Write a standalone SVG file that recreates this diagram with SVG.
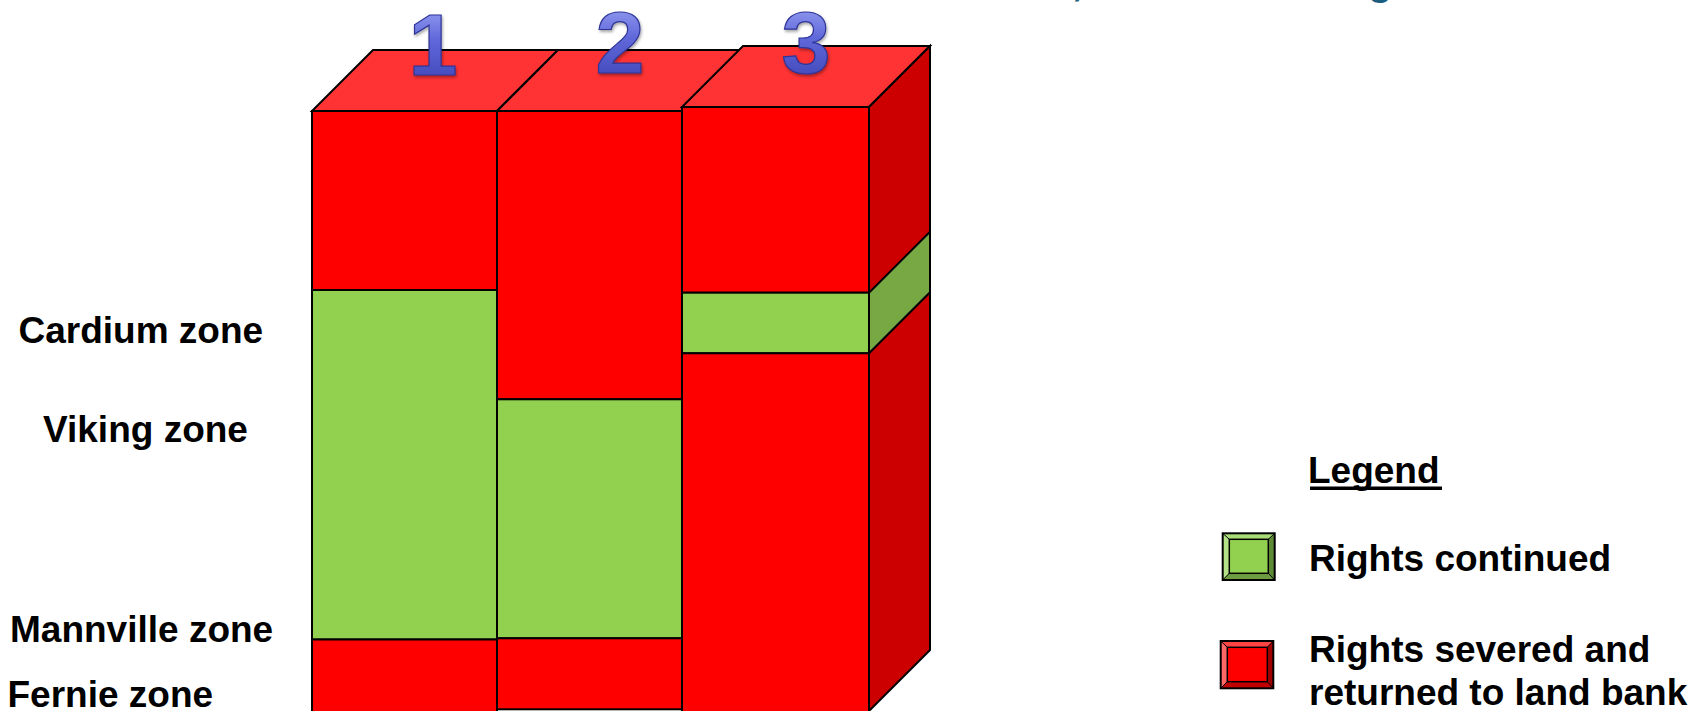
<svg xmlns="http://www.w3.org/2000/svg" width="1702" height="711" viewBox="0 0 1702 711">
<defs>
<linearGradient id="digit" x1="0" y1="0" x2="0" y2="1">
<stop offset="0" stop-color="#A8B0FA"/>
<stop offset="0.45" stop-color="#6068DA"/>
<stop offset="1" stop-color="#3A40B0"/>
</linearGradient>
<filter id="shadow" x="-20%" y="-20%" width="140%" height="140%">
<feDropShadow dx="1" dy="2" stdDeviation="1.5" flood-color="#000" flood-opacity="0.35"/>
</filter>
</defs>
<style>
.edge{stroke:#000;stroke-width:2;stroke-linejoin:miter}
.red{fill:#FF0000}
.redTop{fill:#FF3333}
.redSide{fill:#CC0000}
.green{fill:#92D050}
.greenSide{fill:#77A843}
.lbl{font-family:"Liberation Sans",Arial,sans-serif;font-weight:bold;font-size:37px;fill:#000}
.digit{font-family:"Liberation Sans",Arial,sans-serif;font-weight:bold;font-size:88px;fill:url(#digit);stroke:#2E3496;stroke-width:1.2;text-anchor:middle;filter:url(#shadow)}
.title{font-family:"Liberation Sans",Arial,sans-serif;font-weight:bold;font-size:40px;fill:#1A5D7E}
</style>
<rect width="1702" height="711" fill="#FFFFFF"/>

<g id="title-fragment">
<text class="title" x="1072" y="-5">,</text>
<text class="title" x="1368" y="-5">g</text>
</g>

<g id="column-1">
<polygon class="redTop edge" points="312,111 497,111 558,50 373,50"/>
<rect class="red edge" x="312" y="111" width="185" height="179"/>
<rect class="green edge" x="312" y="290" width="185" height="349.5"/>
<rect class="red edge" x="312" y="639.5" width="185" height="80"/>
</g>

<g id="column-2">
<polygon class="redTop edge" points="497,111 682,111 743,50 558,50"/>
<rect class="red edge" x="497" y="111" width="185" height="288.3"/>
<rect class="green edge" x="497" y="399.3" width="185" height="239"/>
<rect class="red edge" x="497" y="638.3" width="185" height="71"/>
</g>

<g id="column-3">
<polygon class="redTop edge" points="682,107 869,107 930,46 743,46"/>
<polygon class="redSide edge" points="869,107 930,46 930,650 869,711"/>
<polygon class="greenSide edge" points="869,292.7 930,231.7 930,292.3 869,353.3"/>
<rect class="red edge" x="682" y="107" width="187" height="185.7"/>
<rect class="green edge" x="682" y="292.7" width="187" height="60.6"/>
<rect class="red edge" x="682" y="353.3" width="187" height="370"/>
</g>

<g id="column-numbers">
<text class="digit" x="433" y="75">1</text>
<text class="digit" x="620" y="73">2</text>
<text class="digit" x="806" y="73">3</text>
</g>

<g id="zone-labels">
<text class="lbl" x="18.5" y="343">Cardium zone</text>
<text class="lbl" x="43" y="442">Viking zone</text>
<text class="lbl" x="10" y="642">Mannville zone</text>
<text class="lbl" x="7.5" y="706.5">Fernie zone</text>
</g>

<g id="connectors"/>

<g id="legend">
<text class="lbl" x="1308" y="482.7">Legend</text>
<rect x="1310" y="486.5" width="132" height="3.5" fill="#000"/>
<g id="legend-green">
<rect x="1222.7" y="533.3" width="52" height="46.7" fill="#92D050"/>
<polygon points="1222.7,533.3 1274.7,533.3 1268.3,539.3 1229.3,539.3" fill="#A9DC78"/>
<polygon points="1222.7,533.3 1229.3,539.3 1229.3,573.3 1222.7,580" fill="#B5E288"/>
<polygon points="1274.7,533.3 1274.7,580 1268.3,573.3 1268.3,539.3" fill="#5E8A36"/>
<polygon points="1222.7,580 1229.3,573.3 1268.3,573.3 1274.7,580" fill="#6E9C40"/>
<rect x="1229.3" y="539.3" width="39" height="34" fill="none" stroke="#000" stroke-width="1.5"/>
<rect x="1222.7" y="533.3" width="52" height="46.7" fill="none" stroke="#000" stroke-width="2"/>
<g stroke="#000" stroke-width="1"><line x1="1222.7" y1="533.3" x2="1229.3" y2="539.3"/><line x1="1274.7" y1="533.3" x2="1268.3" y2="539.3"/><line x1="1222.7" y1="580" x2="1229.3" y2="573.3"/><line x1="1274.7" y1="580" x2="1268.3" y2="573.3"/></g>
</g>
<text class="lbl" x="1309" y="570.7">Rights continued</text>
<g id="legend-red">
<rect x="1220.7" y="641" width="52.6" height="47.3" fill="#FF0000"/>
<polygon points="1220.7,641 1273.3,641 1267.3,647.3 1227.3,647.3" fill="#FF4444"/>
<polygon points="1220.7,641 1227.3,647.3 1227.3,681.7 1220.7,688.3" fill="#FF6666"/>
<polygon points="1273.3,641 1273.3,688.3 1267.3,681.7 1267.3,647.3" fill="#A00000"/>
<polygon points="1220.7,688.3 1227.3,681.7 1267.3,681.7 1273.3,688.3" fill="#C00000"/>
<rect x="1227.3" y="647.3" width="40" height="34.4" fill="none" stroke="#000" stroke-width="1.5"/>
<rect x="1220.7" y="641" width="52.6" height="47.3" fill="none" stroke="#000" stroke-width="2"/>
<g stroke="#000" stroke-width="1"><line x1="1220.7" y1="641" x2="1227.3" y2="647.3"/><line x1="1273.3" y1="641" x2="1267.3" y2="647.3"/><line x1="1220.7" y1="688.3" x2="1227.3" y2="681.7"/><line x1="1273.3" y1="688.3" x2="1267.3" y2="681.7"/></g>
</g>
<text class="lbl" x="1309" y="661.7">Rights severed and</text>
<text class="lbl" x="1309" y="705">returned to land bank</text>
</g>
</svg>
